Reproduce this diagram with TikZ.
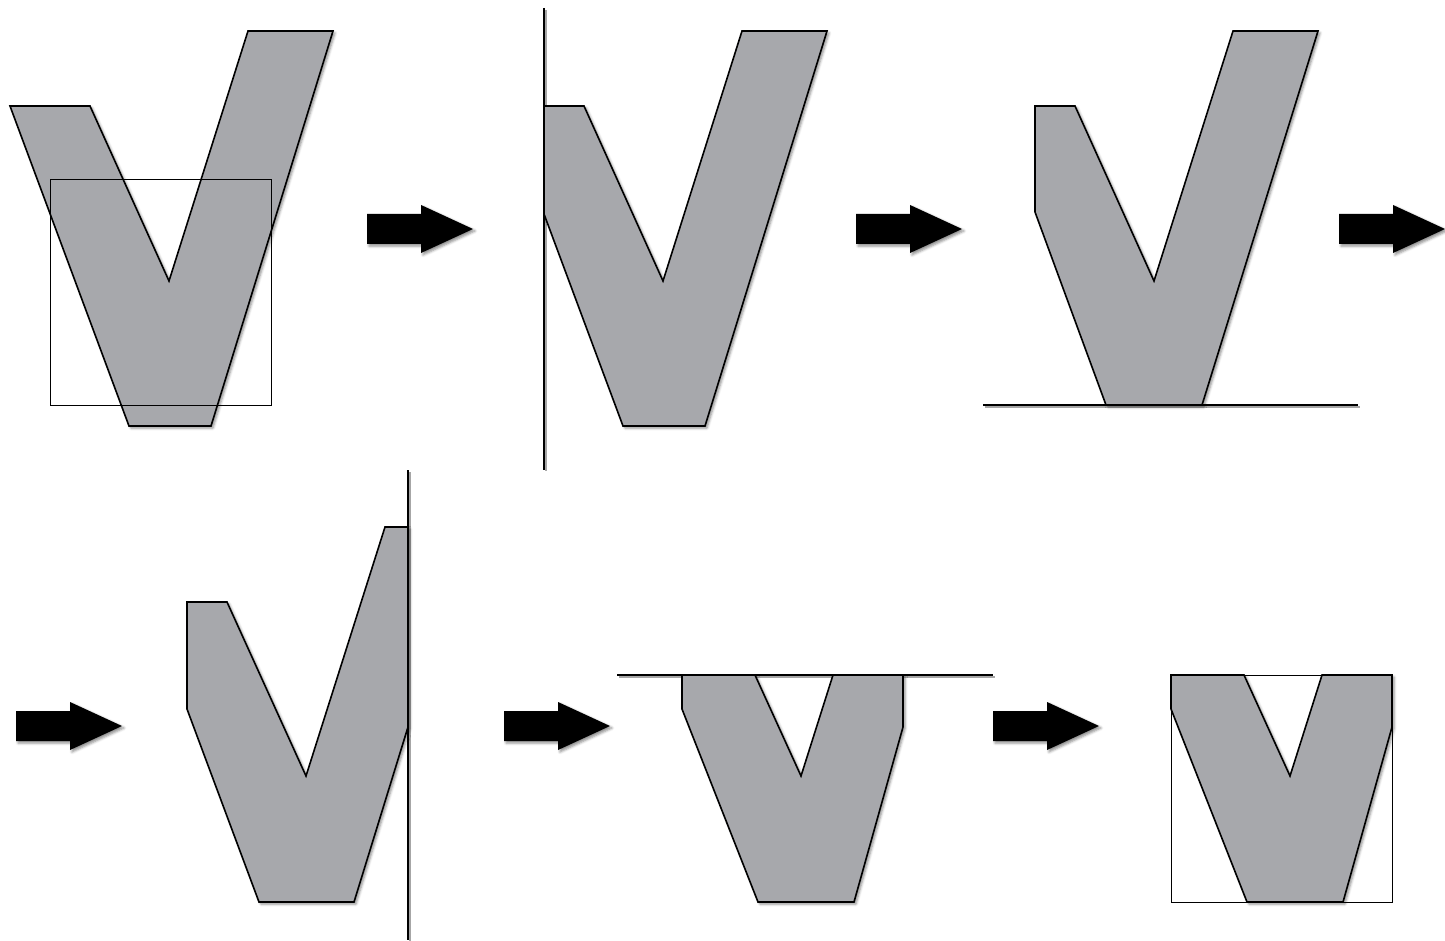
\documentclass[tikz,border=0pt]{standalone}
\usetikzlibrary{shadows.blur}
\definecolor{vgray}{RGB}{167,168,172}
\tikzset{
  vshape/.style={fill=vgray, draw=black, line width=1.6pt, line join=miter,
    blur shadow={shadow xshift=2pt, shadow yshift=-2pt, shadow blur radius=2.5pt, shadow opacity=45}},
  cliprect/.style={draw=black, line width=0.8pt},
  clipline/.style={draw=black, line width=1.3pt},
  lineshadow/.style={draw=black!35, line width=1.6pt},
  blockarrow/.style={fill=black, draw=none,
    blur shadow={shadow xshift=2pt, shadow yshift=-2pt, shadow blur radius=2.5pt, shadow opacity=45}}
}
\newcommand{\blockarr}[2]{%
  \path[blockarrow] (#1,#2) ++(0,-15) -- ++(54,0) -- ++(0,-9) -- ++(52,24) -- ++(-52,24) -- ++(0,-9) -- ++(-54,0) -- cycle;}
\begin{document}
\begin{tikzpicture}[x=1pt,y=-1pt]
\useasboundingbox (0,0) rectangle (1445,941);
% Panel 1
\path[vshape] (10,106) -- (90,106) -- (169,281) -- (248,31) -- (333,31) -- (211,426) -- (129,426) -- cycle;
\draw[cliprect] (50,179) rectangle (271,405);
% Panel 2
\draw[lineshadow] (546,10) -- (546,471);
\draw[clipline] (544,8) -- (544,470);
\path[vshape] (544,106) -- (584,106) -- (663,281) -- (742,31) -- (827,31) -- (705,426) -- (623,426) -- (544,214) -- cycle;
% Panel 3
\draw[lineshadow] (985,407) -- (1360,407);
\draw[clipline] (983,405) -- (1358,405);
\path[vshape] (1035,106) -- (1075,106) -- (1154,281) -- (1233,31) -- (1318,31) -- (1202,405) -- (1106,405) -- (1035,212) -- cycle;
% Panel 4
\draw[lineshadow] (410,472) -- (410,941);
\path[vshape] (187,602) -- (227,602) -- (306,776) -- (385,527) -- (408,527) -- (408,727) -- (354,902) -- (259,902) -- (187,709) -- cycle;
\draw[clipline] (408,470) -- (408,940);
% Panel 5
\draw[lineshadow] (619,677) -- (995,677);
\draw[clipline] (617,675) -- (993,675);
\path[vshape] (682,675) -- (755,675) -- (801,776) -- (833,675) -- (903,675) -- (903,727) -- (854,902) -- (758,902) -- (682,709) -- cycle;
% Panel 6
\path[vshape] (1171,675) -- (1244,675) -- (1290,776) -- (1322,675) -- (1392,675) -- (1392,727) -- (1343,902) -- (1247,902) -- (1171,709) -- cycle;
\draw[cliprect] (1171,675) rectangle (1392,902);
% Arrows
\blockarr{367}{229}
\blockarr{856}{229}
\blockarr{1339}{229}
\blockarr{16}{726}
\blockarr{504}{726}
\blockarr{993}{726}
\end{tikzpicture}
\end{document}
